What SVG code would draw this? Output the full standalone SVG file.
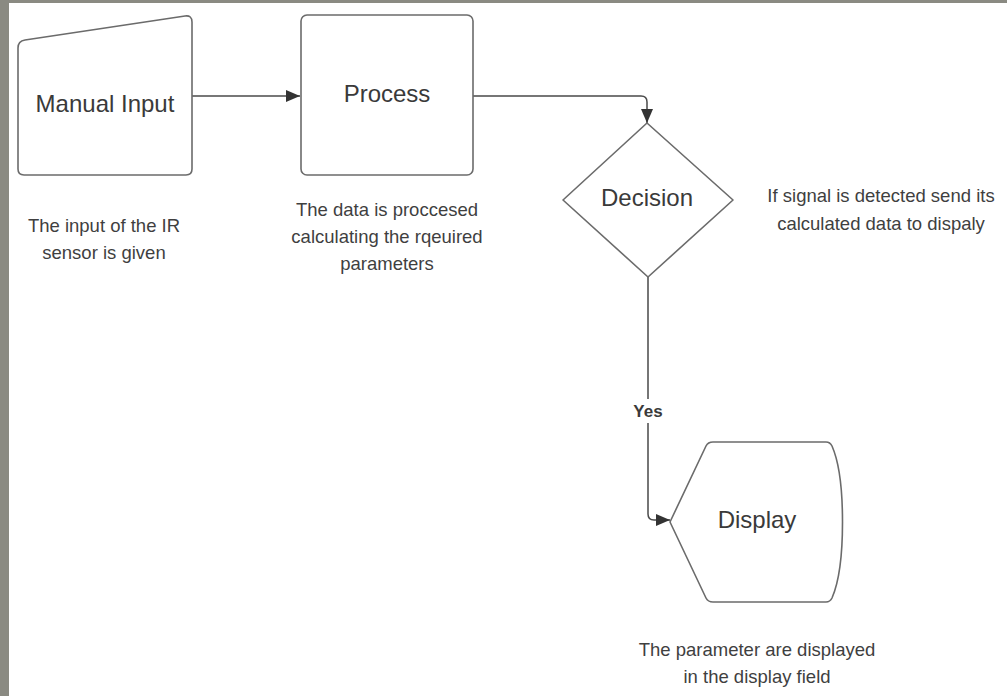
<svg xmlns="http://www.w3.org/2000/svg" width="1007" height="696" viewBox="0 0 1007 696">
<style>
.shape{fill:#ffffff;stroke:#6b6b6b;stroke-width:1.6;stroke-linejoin:round}
.conn{fill:none;stroke:#4a4a4a;stroke-width:1.5}
.lbl{font-family:"Liberation Sans",Arial,sans-serif;font-size:24px;fill:#3a3a3a;text-anchor:middle}
.desc{font-family:"Liberation Sans",Arial,sans-serif;font-size:18.5px;fill:#3f3f3f;text-anchor:middle}
.yes{font-family:"Liberation Sans",Arial,sans-serif;font-size:17px;font-weight:bold;fill:#3a3a3a;text-anchor:middle}
</style>
<defs>
<marker id="arr" viewBox="0 0 14 12" refX="14" refY="6" markerWidth="14" markerHeight="12" markerUnits="userSpaceOnUse" orient="auto">
<path d="M0,0 L14,6 L0,12 Z" fill="#333333"/>
</marker>
</defs>
<rect x="0" y="0" width="1007" height="696" fill="#8a8a82"/>
<rect x="9" y="3" width="998" height="693" fill="#ffffff"/>
<g id="connectors">
<path class="conn" d="M192,96 L300,96" marker-end="url(#arr)"/>
<path class="conn" d="M473,96 L641,96 Q647,96 647,102 L647,123" marker-end="url(#arr)"/>
<path class="conn" d="M648,277 L648,514 Q648,520 654,520 L670,520" marker-end="url(#arr)"/>
<rect x="628" y="399" width="40" height="24" fill="#ffffff"/>
<text class="yes" x="648" y="417">Yes</text>
</g>
<g id="manual-input">
<path class="shape" d="M18,48 Q18,41 25,40 L185,16 Q192,15 192,22 L192,169 Q192,175 186,175 L24,175 Q18,175 18,169 Z"/>
<text class="lbl" x="105" y="112">Manual Input</text>
<text class="desc" x="104" y="232">The input of the IR</text>
<text class="desc" x="104" y="259">sensor is given</text>
</g>
<g id="process">
<rect class="shape" x="301" y="15" width="172" height="160" rx="6"/>
<text class="lbl" x="387" y="102">Process</text>
<text class="desc" x="387" y="216">The data is proccesed</text>
<text class="desc" x="387" y="243">calculating the rqeuired</text>
<text class="desc" x="387" y="270">parameters</text>
</g>
<g id="decision">
<polygon class="shape" points="647,123 733,200 648,277 563,200"/>
<text class="lbl" x="647" y="206">Decision</text>
<text class="desc" x="881" y="202">If signal is detected send its</text>
<text class="desc" x="881" y="230">calculated data to dispaly</text>
</g>
<g id="display">
<path class="shape" d="M713,442 L826,442 Q830,442 832,446 C846,478 846,566 832,598 Q830,602 826,602 L713,602 Q708,602 706,598 L670,522 L706,446 Q708,442 713,442 Z"/>
<text class="lbl" x="757" y="528">Display</text>
<text class="desc" x="757" y="656">The parameter are displayed</text>
<text class="desc" x="757" y="683">in the display field</text>
</g>
</svg>
